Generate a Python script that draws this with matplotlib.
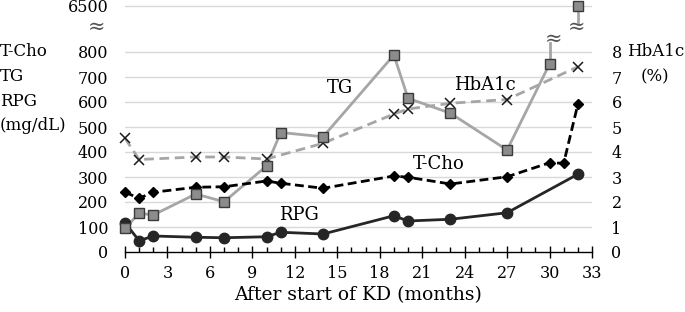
import matplotlib
matplotlib.use("Agg")
import matplotlib.pyplot as plt
import matplotlib.transforms as mtrans
import numpy as np

plt.rcParams['font.family'] = ['DejaVu Serif']

# ---- data ----
tcho_months = [0, 1, 2, 5, 7, 10, 11, 14, 19, 20, 23, 27, 30, 31, 32]
tcho = [239, 215, 239, 259, 261, 284, 275, 255, 304, 299, 272, 301, 357, 355, 591]
rpg_months = [0, 1, 2, 5, 7, 10, 11, 14, 19, 20, 23, 27, 32]
rpg = [117, 45, 64, 59, 57, 61, 79, 72, 145, 124, 131, 157, 311]
tg_months = [0, 1, 2, 5, 7, 10, 11, 14, 19, 20, 23, 27, 30, 32]
tg = [95, 155, 148, 232, 201, 344, 478, 461, 788, 615, 555, 408, 752, 6500]
hba_months = [0, 1, 5, 7, 10, 14, 19, 20, 23, 27, 32]
hba1c = [4.55, 3.7, 3.8, 3.8, 3.72, 4.35, 5.52, 5.72, 5.95, 6.1, 7.41]

left_ticks = [0, 100, 200, 300, 400, 500, 600, 700, 800, 6500]
right_ticks = [0, 1, 2, 3, 4, 5, 6, 7, 8]
x_ticks = list(range(0, 34, 3))

BREAK_LOW, BREAK_VAL, BREAK_POS = 800, 6500, 984


def ypos(v):
    v = np.asarray(v, dtype=float)
    return np.where(v > BREAK_LOW, BREAK_POS + (v - BREAK_VAL) * 0.0, v)


fig = plt.figure(figsize=(6.85, 3.12), dpi=100)
ax = fig.add_axes([125 / 685, 1 - 252 / 312, (592 - 125) / 685, 250 / 312])
ax2 = ax.twinx()
ax.set_zorder(ax2.get_zorder() + 1)
ax.patch.set_visible(False)

ax.set_xlim(0, 33)
ax.set_ylim(0, 1000)
ax2.set_ylim(0, 10)

grid_c = '#d9d9d9'
for t in left_ticks[1:]:
    ax.axhline(ypos(t), color=grid_c, lw=1.0, zorder=0)

# RPG
ax.plot(rpg_months, rpg, color='#262626', lw=2.0, marker='o', ms=7.5,
        mfc='#262626', mec='#262626', zorder=5, clip_on=False)
# T-Cho
ax.plot(tcho_months, tcho, color='black', lw=2.0, ls=(0, (3.2, 1.6)),
        marker='D', ms=5.5, mfc='black', mec='black', zorder=5, clip_on=False)
# HbA1c (right axis scale == left /100)
ax.plot(hba_months, np.array(hba1c) * 100, color='#a6a6a6', lw=2.0,
        ls=(0, (3.5, 2)), zorder=3)
ax.plot(hba_months, np.array(hba1c) * 100, ls='none', marker='x', ms=6.5,
        mew=1.1, color='#1a1a1a', zorder=6, clip_on=False)

# TG (broken last segment)
tgp = ypos(tg)
ax.plot(tg_months[:-1], tgp[:-1], color='#a6a6a6', lw=2.0, zorder=4)
ax.plot([tg_months[-2], tg_months[-2]], [tgp[-2], 835], color='#a6a6a6', lw=2.0, zorder=4)
ax.plot([tg_months[-1], tg_months[-1]], [tgp[-1], 915], color='#a6a6a6', lw=2.0, zorder=4)
ax.plot(tg_months, tgp, ls='none', marker='s', ms=7, mfc='#8c8c8c',
        mec='#3a3a3a', mew=1.0, zorder=7, clip_on=False)
ax.text(tg_months[-2] + 0.3, 850, '≈', fontsize=15, ha='center', va='center',
        color='#555555', zorder=8)
ax.text(tg_months[-1] - 0.1, 897, '≈', fontsize=15, ha='center', va='center',
        color='#555555', zorder=8)

# axis break symbol on left axis
trans = mtrans.blended_transform_factory(ax.transAxes, ax.transData)
ax.text(-0.061, 900, '≈', transform=trans, fontsize=15, ha='center',
        va='center', color='#555555')

# ticks
ax.set_yticks(ypos(left_ticks))
ax.set_yticklabels([str(t) for t in left_ticks])
ax.tick_params(axis='y', length=0, pad=12, labelsize=11.5)
ax2.set_yticks(right_ticks)
ax2.set_yticklabels([str(t) for t in right_ticks])
ax2.tick_params(axis='y', length=0, pad=14, labelsize=11.5)

ax.set_xticks(x_ticks)
ax.set_xticks(range(0, 34), minor=True)
ax.tick_params(axis='x', which='major', direction='inout', length=9, width=1.0,
               labelsize=11.5, pad=5)
ax.tick_params(axis='x', which='minor', direction='in', length=3.5, width=1.0)

for a in (ax, ax2):
    for s in ('left', 'right', 'top'):
        a.spines[s].set_visible(False)
ax2.spines['bottom'].set_visible(False)
ax.spines['bottom'].set_color('black')
ax.spines['bottom'].set_linewidth(1.0)

ax.set_xlabel('After start of KD (months)', fontsize=13.5, labelpad=3)

# series labels
ax.text(15.2, 656, 'TG', fontsize=13, ha='center', va='center')
ax.text(25.4, 668, 'HbA1c', fontsize=13, ha='center', va='center')
ax.text(22.2, 352, 'T-Cho', fontsize=13, ha='center', va='center')
ax.text(12.3, 148, 'RPG', fontsize=13, ha='center', va='center')

# axis titles
for i, s in enumerate(['T-Cho', 'TG', 'RPG', '(mg/dL)']):
    fig.text(0 / 685, 1 - (52 + 24.5 * i) / 312, s, fontsize=12,
             ha='left', va='center')
fig.text(684 / 685, 1 - 52 / 312, 'HbA1c', fontsize=12, ha='right', va='center')
fig.text(655 / 685, 1 - 77 / 312, '(%)', fontsize=12, ha='center', va='center')

fig.savefig('out.png', dpi=100)
